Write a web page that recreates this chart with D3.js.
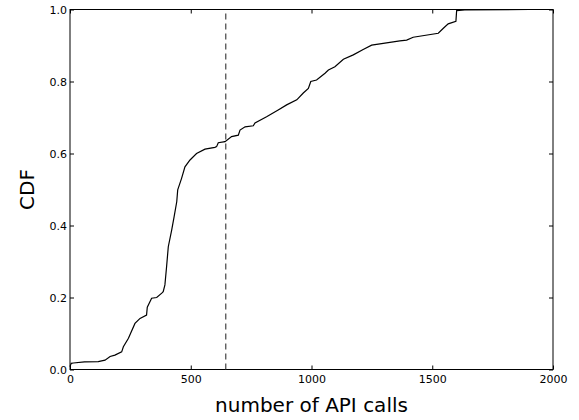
<!DOCTYPE html>
<html>
<head>
<meta charset="utf-8">
<script src="https://cdn.jsdelivr.net/npm/d3@7"></script>
<style>
body { margin: 0; background: #fff; }
svg { display: block; font-family: "DejaVu Sans", sans-serif; }
</style>
</head>
<body>
<svg width="579" height="420"></svg>
<script>
// cdf of API call counts
var calls = [0, 5, 14, 60, 117, 145, 166, 186, 214, 221, 242, 269, 290, 317, 320, 338, 359, 380, 386, 393,
  400, 407, 421, 431, 442, 446, 462, 476, 497, 524, 559, 600, 607, 614, 642, 669, 697, 704, 725, 759,
  766, 814, 862, 897, 939, 966, 987, 997, 1021, 1056, 1070, 1097, 1132, 1173, 1214, 1249, 1297, 1366,
  1394, 1421, 1525, 1546, 1566, 1598, 1601, 1635, 1900];
var cdf = [0.008, 0.017, 0.018, 0.021, 0.022, 0.026, 0.036, 0.04, 0.049, 0.063, 0.087, 0.128, 0.142, 0.151, 0.173, 0.198, 0.2, 0.212, 0.216, 0.235,
  0.286, 0.341, 0.387, 0.424, 0.466, 0.499, 0.531, 0.563, 0.582, 0.6, 0.612, 0.617, 0.619, 0.63, 0.633, 0.647, 0.651, 0.665, 0.674, 0.677,
  0.685, 0.702, 0.721, 0.735, 0.749, 0.768, 0.781, 0.8, 0.804, 0.823, 0.832, 0.841, 0.862, 0.874, 0.889, 0.901, 0.906, 0.913,
  0.915, 0.923, 0.934, 0.948, 0.96, 0.967, 0.997, 0.999, 1.0];
var median = 645;
var xTicks = [0, 500, 1000, 1500, 2000];
var yTicks = [0.0, 0.2, 0.4, 0.6, 0.8, 1.0];

var svg = d3.select("svg");
var pLeft = 70, pRight = 553, pTop = 9.5, pBottom = 369.5;

var x = d3.scaleLinear().domain([0, 2000]).range([pLeft, pRight]);
var y = d3.scaleLinear().domain([0, 1]).range([pBottom, pTop]);

// axes, ticks pointing inward, matplotlib style
function styleAxis(g) {
  g.select(".domain").remove();
  g.selectAll("line").attr("stroke", "#000");
  g.selectAll("text").attr("font-size", 11).attr("fill", "#000")
    .attr("font-family", "DejaVu Sans, sans-serif");
}

svg.append("g").attr("transform", "translate(0," + pBottom + ")")
  .call(d3.axisBottom(x).tickValues(xTicks).tickFormat(d3.format("d")).tickSizeInner(-4).tickPadding(6))
  .call(styleAxis);
svg.append("g").attr("transform", "translate(0," + pTop + ")")
  .call(d3.axisTop(x).tickValues(xTicks).tickFormat("").tickSizeInner(-4))
  .call(styleAxis);
svg.append("g").attr("transform", "translate(" + pLeft + ",0)")
  .call(d3.axisLeft(y).tickValues(yTicks).tickFormat(d3.format(".1f")).tickSizeInner(-4).tickPadding(3))
  .call(styleAxis);
svg.append("g").attr("transform", "translate(" + pRight + ",0)")
  .call(d3.axisRight(y).tickValues(yTicks).tickFormat("").tickSizeInner(-4))
  .call(styleAxis);

// frame
svg.append("rect")
  .attr("x", pLeft).attr("y", pTop)
  .attr("width", pRight - pLeft).attr("height", pBottom - pTop)
  .attr("fill", "none").attr("stroke", "#000").attr("stroke-width", 1);

// the curve
var pts = calls.map(function(d, i) { return [d, cdf[i]]; });
var line = d3.line().x(function(d) { return x(d[0]); }).y(function(d) { return y(d[1]); });
svg.append("path").datum(pts)
  .attr("d", line)
  .attr("fill", "none")
  .attr("stroke", "#000")
  .attr("stroke-width", 1.2);

// dashed marker
svg.append("line")
  .attr("x1", x(median)).attr("x2", x(median))
  .attr("y1", y(0)).attr("y2", y(1))
  .attr("stroke", "#444")
  .attr("stroke-width", 1.2)
  .attr("stroke-dasharray", "6,4");

// labels
svg.append("text")
  .attr("x", (pLeft + pRight) / 2).attr("y", 412)
  .attr("text-anchor", "middle")
  .attr("font-size", 20)
  .text("number of API calls");
svg.append("text")
  .attr("transform", "translate(34," + (pTop + pBottom) / 2 + ") rotate(-90)")
  .attr("text-anchor", "middle")
  .attr("font-size", 20)
  .text("CDF");
</script>
</body>
</html>
